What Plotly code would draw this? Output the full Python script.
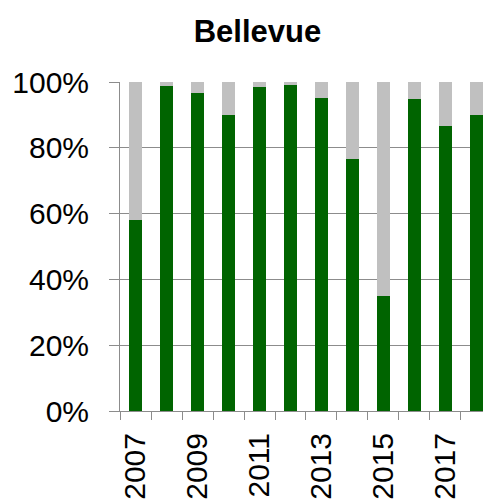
import plotly.graph_objects as go

# ── Data ────────────────────────────────────────────────────────────────────
years = [2007, 2008, 2009, 2010, 2011, 2012, 2013, 2014, 2015, 2016, 2017, 2018]
green_share = [0.58, 0.987, 0.967, 0.90, 0.985, 0.99, 0.951, 0.766, 0.35, 0.947, 0.867, 0.90]
gray_share = [1 - v for v in green_share]

year_labels = [2007, 2009, 2011, 2013, 2015, 2017]

green = "#006400"
gray = "#c0c0c0"
axis_col = "#8c8c8c"
font_fam = "Liberation Sans, Arial, sans-serif"

fig = go.Figure()
fig.add_trace(go.Bar(
    x=years, y=green_share, marker=dict(color=green, line=dict(width=0)),
    width=0.39, showlegend=False
))
fig.add_trace(go.Bar(
    x=years, y=gray_share, marker=dict(color=gray, line=dict(width=0)),
    width=0.39, showlegend=False
))

fig.update_layout(
    barmode="stack",
    width=483, height=500,
    paper_bgcolor="white", plot_bgcolor="white",
    margin=dict(l=120, r=0, t=82, b=89),
    font=dict(family=font_fam, color="black"),
    title=dict(
        text="<b>Bellevue</b>", x=257.5 / 483, xref="container", xanchor="center",
        y=1 - 31 / 500, yref="container", yanchor="middle",
        font=dict(size=31, color="black", family=font_fam)
    ),
    xaxis=dict(
        range=[2006.5, 2018.21], tickvals=year_labels, ticktext=[str(y) for y in year_labels],
        tickangle=-90, ticks="", showgrid=False, zeroline=False, automargin=False,
        showline=True, linecolor=axis_col, linewidth=1,
        tickfont=dict(size=30, color="black"), ticklabelstandoff=9,
        minor=dict(ticks="outside", ticklen=8, tickcolor=axis_col, tick0=2006.5, dtick=1,
                   showgrid=False)
    ),
    yaxis=dict(
        range=[0, 1], tickvals=[0, 0.2, 0.4, 0.6, 0.8, 1.0], tickformat=".0%",
        ticks="outside", ticklen=10, tickcolor=axis_col, automargin=False,
        showgrid=True, gridcolor=axis_col, gridwidth=1, zeroline=False,
        showline=True, linecolor=axis_col, linewidth=1,
        tickfont=dict(size=30, color="black"), ticklabelstandoff=14
    ),
)

# page margin off so the 483x500 figure fills the window exactly
fig.write_html(
    "out.html",
    config={"displayModeBar": False},
    post_script="document.body.style.margin='0';document.body.style.overflow='hidden';",
)
